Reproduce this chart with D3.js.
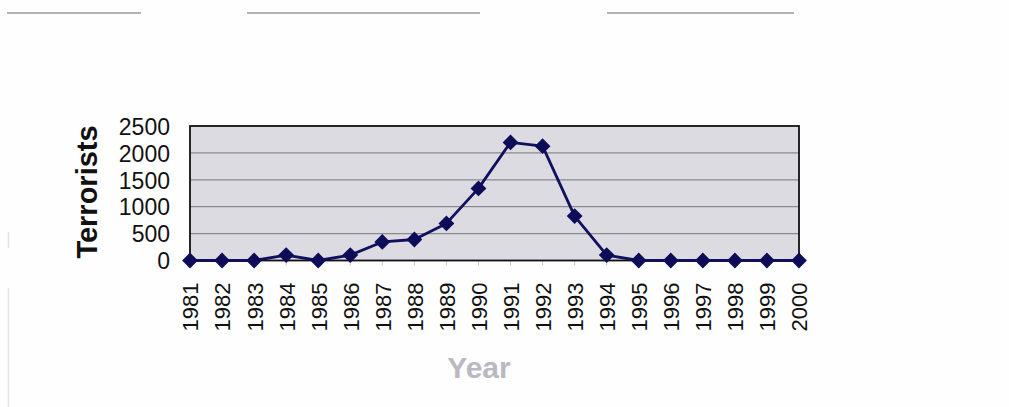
<!DOCTYPE html>
<html>
<head>
<meta charset="utf-8">
<script src="https://cdn.jsdelivr.net/npm/d3@7/dist/d3.min.js"></script>
<style>
  html, body { margin: 0; padding: 0; background: #fefefe; }
  svg { display: block; }
</style>
</head>
<body>
<svg id="chart" width="1009" height="407"></svg>
<script>
// Terrorists per year, 1981–2000
const years = [1981, 1982, 1983, 1984, 1985, 1986, 1987, 1988, 1989, 1990,
               1991, 1992, 1993, 1994, 1995, 1996, 1997, 1998, 1999, 2000];
const terrorists = [0, 0, 0, 100, 0, 100, 345, 390, 690, 1340,
                    2195, 2125, 825, 100, 0, 0, 0, 0, 0, 0];
const yTicks = [0, 500, 1000, 1500, 2000, 2500];

const svg = d3.select("#chart");
const font = "'Liberation Sans', Arial, Helvetica, sans-serif";

const plot = { left: 190, right: 799, top: 126, bottom: 260.5 };

const x = d3.scaleLinear().domain([d3.min(years), d3.max(years)]).range([plot.left, plot.right]);
const y = d3.scaleLinear().domain([0, 2500]).range([plot.bottom, plot.top]);

// rule lines along the top of the page
const topRules = [[7, 141], [247, 480], [607, 794]];
svg.selectAll("line.rule").data(topRules).enter().append("line")
  .attr("class", "rule")
  .attr("x1", d => d[0]).attr("x2", d => d[1])
  .attr("y1", 13).attr("y2", 13)
  .attr("stroke", "#b4b2b6").attr("stroke-width", 2);

// faint margin marks on the left edge
svg.append("line").attr("x1", 8.5).attr("x2", 8.5).attr("y1", 232).attr("y2", 248)
  .attr("stroke", "#e2e2e2").attr("stroke-width", 1.5);
svg.append("line").attr("x1", 8.5).attr("x2", 8.5).attr("y1", 288).attr("y2", 407)
  .attr("stroke", "#e6e6e6").attr("stroke-width", 1.5);

// plot background
svg.append("rect")
  .attr("x", plot.left).attr("y", plot.top)
  .attr("width", plot.right - plot.left).attr("height", plot.bottom - plot.top)
  .attr("fill", "#dddbe2");

// horizontal gridlines
svg.append("g").selectAll("line").data(yTicks.filter(v => v > 0 && v < 2500)).enter().append("line")
  .attr("x1", plot.left).attr("x2", plot.right)
  .attr("y1", d => y(d)).attr("y2", d => y(d))
  .attr("stroke", "#8c8a8e").attr("stroke-width", 1.2);

// small category ticks under the baseline
svg.append("g").selectAll("line").data(years).enter().append("line")
  .attr("x1", d => x(d)).attr("x2", d => x(d))
  .attr("y1", plot.bottom).attr("y2", plot.bottom + 5)
  .attr("stroke", "#c8c8cc").attr("stroke-width", 1);

// plot frame
svg.append("rect")
  .attr("x", plot.left).attr("y", plot.top)
  .attr("width", plot.right - plot.left).attr("height", plot.bottom - plot.top)
  .attr("fill", "none").attr("stroke", "#111").attr("stroke-width", 1.8);

// y axis labels
const yAxis = d3.axisLeft(y).tickValues(yTicks).tickFormat(d3.format("d")).tickSize(0).tickPadding(20);
const gy = svg.append("g").attr("transform", `translate(${plot.left},0)`).call(yAxis);
gy.select(".domain").remove();
gy.selectAll("text")
  .attr("font-family", font).attr("font-size", 23).attr("fill", "#111")
  .attr("dy", "0.36em");

// x axis labels, rotated
const xAxis = d3.axisBottom(x).tickValues(years).tickFormat(d3.format("d")).tickSize(0);
const gx = svg.append("g").attr("transform", `translate(0,${plot.bottom})`).call(xAxis);
gx.select(".domain").remove();
gx.selectAll("text")
  .attr("font-family", font).attr("font-size", 22).attr("fill", "#111")
  .attr("text-anchor", "end")
  .attr("transform", "rotate(-90)")
  .attr("x", -22).attr("y", 0).attr("dy", "0.36em");

// series line
const line = d3.line().x((d, i) => x(years[i])).y(d => y(d));
svg.append("path").datum(terrorists)
  .attr("d", line)
  .attr("fill", "none").attr("stroke", "#10105e").attr("stroke-width", 2.8)
  .attr("stroke-linejoin", "round");

// diamond markers
const diamond = d3.symbol().type(d3.symbolSquare).size(125);
svg.append("g").selectAll("path").data(terrorists).enter().append("path")
  .attr("d", diamond)
  .attr("transform", (d, i) => `translate(${x(years[i])},${y(d)}) rotate(45)`)
  .attr("fill", "#0c0c58");

// axis titles
svg.append("text")
  .attr("transform", "translate(97,192) rotate(-90)")
  .attr("text-anchor", "middle")
  .attr("font-family", font).attr("font-weight", "bold").attr("font-size", 29)
  .attr("fill", "#111")
  .text("Terrorists");

svg.append("text")
  .attr("x", 479).attr("y", 378)
  .attr("text-anchor", "middle")
  .attr("font-family", font).attr("font-weight", "bold").attr("font-size", 30)
  .attr("fill", "#bab8c0")
  .text("Year");
</script>
</body>
</html>
